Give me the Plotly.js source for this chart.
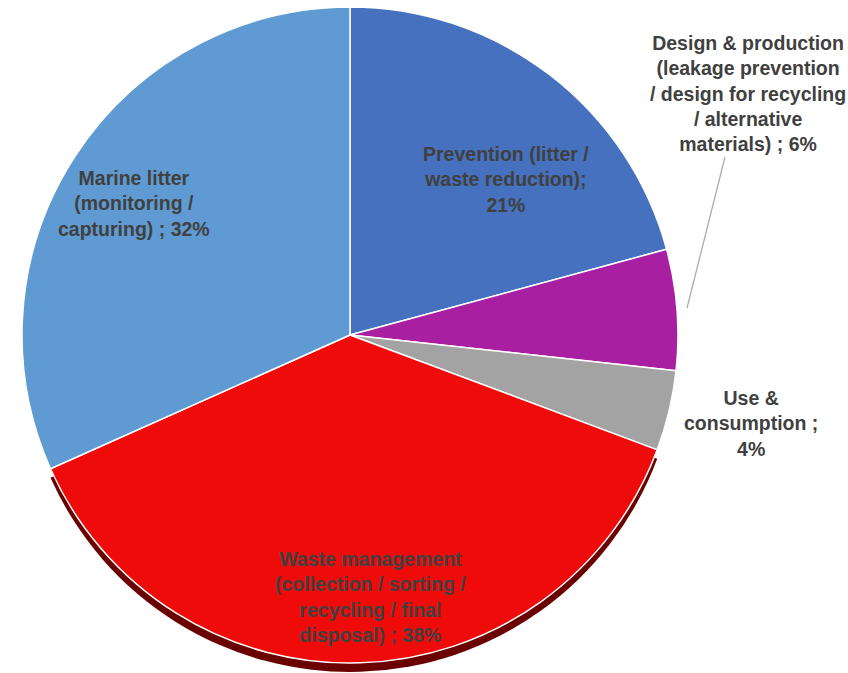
<!DOCTYPE html>
<html>
<head>
<meta charset="utf-8">
<script src="https://cdn.plot.ly/plotly-3.0.1.min.js"></script>
<style>html,body{margin:0;padding:0;background:#fff;}#chart{width:848px;height:673px;}</style>
</head>
<body>
<div id="chart"></div>
<script>
// ---- data ----
const categories = [
  "Prevention (litter / waste reduction)",
  "Design & production (leakage prevention / design for recycling / alternative materials)",
  "Use & consumption",
  "Waste management (collection / sorting / recycling / final disposal)",
  "Marine litter (monitoring / capturing)"
];
const shares = [21, 6, 4, 38, 32];
const labelText = [
  "Prevention (litter /<br>waste reduction);<br>",
  "Design & production<br>(leakage prevention<br>/ design for recycling<br>/ alternative<br>materials) ; ",
  "Use &<br>consumption ;<br>",
  "Waste management<br>(collection / sorting /<br>recycling / final<br>disposal) ; ",
  "Marine litter<br>(monitoring /<br>capturing) ; "
];
const sliceColors = ["#4571BE", "#A91FA2", "#A3A3A3", "#F00B0B", "#5F9BD2"];
const edgeColors = ["rgba(0,0,0,0)", "rgba(0,0,0,0)", "rgba(0,0,0,0)", "#6A0000", "rgba(0,0,0,0)"];

// ---- layout helpers ----
const W = 848, H = 673;
const px = x => x / W;
const py = y => 1 - y / H;
const cx = 350, cy = 335, r = 328, depth = 9;

const total = shares.reduce((a, b) => a + b, 0);
const pctText = shares.map(v => Math.round(v / total * 100) + "%");

const edge = {
  type: "pie", values: shares, labels: categories, sort: false, direction: "clockwise",
  rotation: 0, textinfo: "none", hoverinfo: "skip", showlegend: false,
  marker: {colors: edgeColors, line: {width: 0}},
  domain: {x: [px(cx - r), px(cx + r)], y: [Math.max(0, py(cy + r + depth)), py(cy - r + depth)]}
};
const face = {
  type: "pie", values: shares, labels: categories, sort: false, direction: "clockwise",
  rotation: 0, textinfo: "none", showlegend: false,
  marker: {colors: sliceColors, line: {color: "#FFFFFF", width: 1.5}},
  domain: {x: [px(cx - r), px(cx + r)], y: [py(cy + r), py(cy - r)]}
};

const labelPos = [[506, 180], [748, 94], [751, 423], [370, 597], [134, 203]];
const annotations = categories.map((c, i) => ({
  xref: "paper", yref: "paper",
  x: px(labelPos[i][0]), y: py(labelPos[i][1]),
  xanchor: "center", yanchor: "middle", align: "center", showarrow: false,
  text: labelText[i] + pctText[i],
  font: {family: "Liberation Sans, Arial, sans-serif", size: 19.5, color: "#404040", weight: "bold"}
}));

const layout = {
  width: W, height: H,
  margin: {l: 0, r: 0, t: 0, b: 0},
  paper_bgcolor: "#FFFFFF",
  showlegend: false,
  annotations: annotations,
  shapes: [{
    type: "line", xref: "paper", yref: "paper",
    x0: px(687), y0: py(308), x1: px(725), y1: py(157),
    line: {color: "#A6A6A6", width: 1.2}
  }]
};

Plotly.newPlot("chart", [edge, face], layout, {displayModeBar: false, staticPlot: true});
</script>
</body>
</html>
